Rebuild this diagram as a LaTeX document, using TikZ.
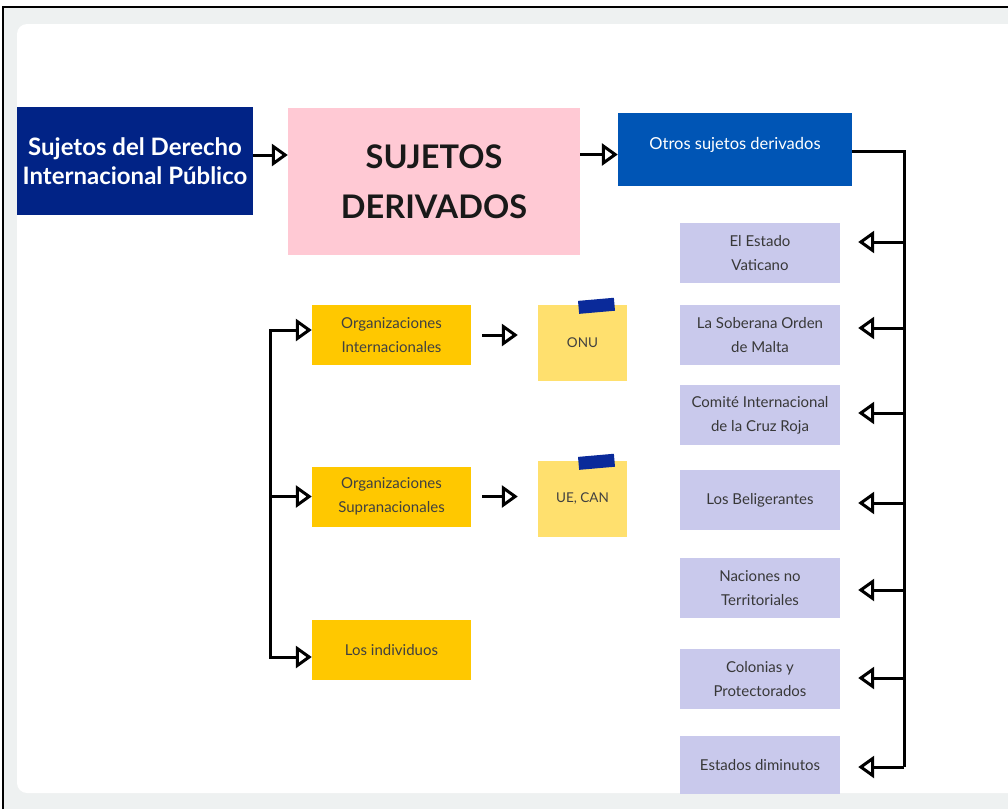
\documentclass[tikz,border=0pt]{standalone}
\usepackage{fontspec}
\setmainfont{Lato}
\usetikzlibrary{arrows.meta, positioning, calc}

\definecolor{navy}{HTML}{012386}
\definecolor{pinkbox}{HTML}{FFC9D4}
\definecolor{bluebox}{HTML}{0055B5}
\definecolor{lavender}{HTML}{C9C9EC}
\definecolor{goldbox}{HTML}{FFC800}
\definecolor{notebox}{HTML}{FFE06E}
\definecolor{tapeblue}{HTML}{0A2A9A}
\definecolor{bggray}{HTML}{EEF1F1}

\begin{document}
\begin{tikzpicture}[x=1pt, y=-1pt,
    conn/.style={line width=3pt, black},
    opentip/.style={-{Triangle[open, length=16pt, width=22pt]}},
    box/.style={inner sep=0pt, align=center, minimum height=60pt},
    lavbox/.style={box, fill=lavender, minimum width=160pt, text=black!78, font=\fontsize{15}{24}\selectfont},
    goldnode/.style={box, fill=goldbox, minimum width=159pt, text=black!75, font=\fontsize{15}{24}\selectfont},
    notenode/.style={box, fill=notebox, minimum width=89pt, minimum height=76pt, text=black!75, font=\fontsize{13.5}{16}\selectfont},
    tapenode/.style={fill=tapeblue, minimum width=36pt, minimum height=13pt, inner sep=0pt, rotate=5}
  ]
    \useasboundingbox (0,0) rectangle (1008,809);
    % frame and card
    \fill[white] (0,0) rectangle (1008,809);
    \fill[bggray] (3,7) rectangle (1008,809);
    \draw[line width=1.8pt] (3,809) -- (3,7) -- (1008,7);
    \fill[white] (1008,24) [rounded corners=10pt] -- (17,24) -- (17,793) [sharp corners] -- (1008,793) -- cycle;

    % top row
    \node[box, fill=navy, minimum width=236pt, minimum height=108pt, text=white,
          font=\bfseries\fontsize{24}{29}\selectfont] (suj) at (135,161) {Sujetos del Derecho\\Internacional Público};
    \node[box, fill=pinkbox, minimum width=292pt, minimum height=147pt, text=black!90,
          font=\bfseries\fontsize{32.5}{50}\selectfont] (der) at (434,181.5) {SUJETOS\\DERIVADOS};
    \node[box, fill=bluebox, minimum width=234pt, minimum height=73pt, text=white, text depth=12pt,
          font=\fontsize{16.5}{20}\selectfont] (otros) at (735,149.5) {Otros sujetos derivados};

    \draw[conn, opentip] ([yshift=6pt]suj.east) -- ([yshift=6pt]suj.east -| der.west);
    \draw[conn, opentip] ([yshift=-5pt]otros.west -| der.east) -- ([yshift=-5pt]otros.west);

    % right column
    \node[lavbox] (vat)   at (760,253)   {El Estado\\Vaticano};
    \node[lavbox] (malta) at (760,335)   {La Soberana Orden\\de Malta};
    \node[lavbox] (cruz)  at (760,415)   {Comité Internacional\\de la Cruz Roja};
    \node[lavbox] (bel)   at (760,500)   {Los Beligerantes};
    \node[lavbox] (nac)   at (760,588)   {Naciones no\\Territoriales};
    \node[lavbox] (col)   at (760,679)   {Colonias y\\Protectorados};
    \node[lavbox, minimum height=58pt] (dim) at (760,765) {Estados diminutos};

    \coordinate (rbot) at (904,767);
    \draw[conn] ([yshift=-2pt]otros.east) -| (rbot);
    \foreach \n/\s in {vat/11, malta/7, cruz/2, bel/-3, nac/-2, col/1, dim/-2}
        \draw[conn, opentip] ([yshift=\s pt]\n.east -| rbot) -- ([xshift=18pt, yshift=\s pt]\n.east);

    % left tree
    \node[goldnode] (orgint) at (391.5,335)   {Organizaciones\\Internacionales};
    \node[goldnode] (orgsup) at (391.5,496.5) {Organizaciones\\Supranacionales};
    \node[goldnode] (indiv)  at (391.5,650)   {Los individuos};

    \coordinate (ltop) at (270,330);
    \coordinate (lbot) at (270,657);
    \draw[conn, {Triangle[open, length=16pt, width=22pt]}-{Triangle[open, length=16pt, width=22pt]}]
        (ltop -| orgint.west) -- (ltop) -- (lbot) -- (lbot -| indiv.west);
    \draw[conn, opentip] (orgsup.west -| ltop) -- (orgsup.west);

    % sticky notes
    \node[notenode] (onu)   at (582.5,343) {ONU};
    \node[notenode] (uecan) at (582.5,499) {UE, CAN};
    \node[tapenode] (onutape)   at ([xshift=14pt, yshift=-1pt]onu.north) {};
    \node[tapenode] (uecantape) at ([xshift=14pt, yshift=-1pt]uecan.north) {};

    \draw[conn, opentip] ([xshift=11pt]orgint.east) -- ([xshift=-20pt]onu.west |- orgint.east);
    \draw[conn, opentip] ([xshift=11pt]orgsup.east) -- ([xshift=-20pt]uecan.west |- orgsup.east);
\end{tikzpicture}
\end{document}
